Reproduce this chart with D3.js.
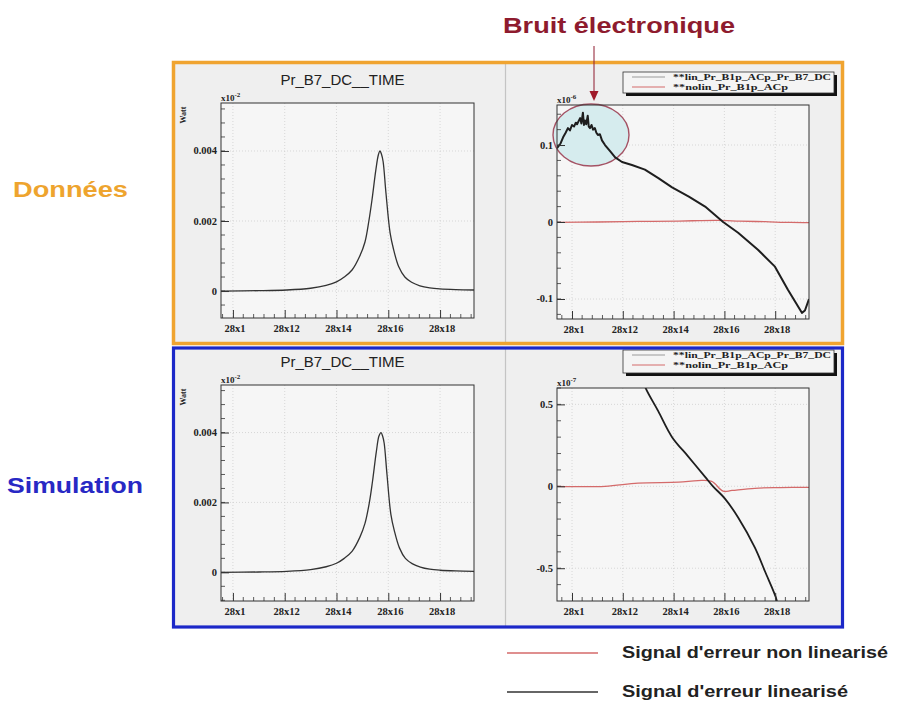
<!DOCTYPE html>
<html><head><meta charset="utf-8">
<script src="https://cdn.jsdelivr.net/npm/d3@7"></script>
<style>body{margin:0;background:#fff}svg{display:block}</style>
</head><body>
<svg id="c" width="909" height="702"></svg>
<script>
// ---------- data ----------
const xTickVals = [10, 12, 14, 16, 18];
const xTickLabels = ["28x1", "28x12", "28x14", "28x16", "28x18"];

const powerTicks = [0, 0.002, 0.004];
const powerTickLabels = ["0", "0.002", "0.004"];
const errDataTicks = [-0.1, 0, 0.1];
const errDataTickLabels = ["-0.1", "0", "0.1"];
const errSimTicks = [-0.5, 0, 0.5];
const errSimTickLabels = ["-0.5", "0", "0.5"];

// Power (Watt) versus time, data
const powerDataX = [9.54, 11.0, 12.08, 13.0, 13.6, 14.0, 14.3, 14.6, 14.9, 15.1, 15.25, 15.37, 15.52, 15.62, 15.68, 15.74, 15.8, 15.91, 16.07, 16.2, 16.4, 16.64, 16.9, 17.22, 17.6, 17.99, 18.6, 19.31];
const powerDataY = [0.0, 0.00001, 0.00003, 0.00008, 0.00016, 0.00026, 0.0004, 0.0006, 0.001, 0.0014, 0.002, 0.0026, 0.00346, 0.0039, 0.004, 0.0039, 0.0037, 0.0028, 0.00166, 0.0012, 0.0007, 0.0004, 0.00025, 0.00015, 0.00009, 0.00006, 0.00004, 0.00003];
// Power (Watt) versus time, simulation
const powerSimX = [9.54, 11.0, 12.08, 13.0, 13.6, 14.0, 14.3, 14.6, 14.9, 15.1, 15.27, 15.39, 15.54, 15.64, 15.72, 15.78, 15.84, 15.95, 16.1, 16.23, 16.43, 16.66, 16.92, 17.24, 17.6, 18.0, 18.6, 19.31];
const powerSimY = [0.0, 0.00001, 0.00003, 0.00008, 0.00016, 0.00026, 0.0004, 0.0006, 0.001, 0.0014, 0.002, 0.0026, 0.00346, 0.0039, 0.004, 0.0039, 0.0037, 0.0028, 0.00166, 0.0012, 0.0007, 0.0004, 0.00025, 0.00015, 0.00009, 0.00006, 0.00004, 0.00003];

// Error signal, data (x10^-6)
const linDataX = [9.41, 9.55, 9.65, 9.75, 9.84, 9.92, 10.0, 10.08, 10.15, 10.2, 10.26, 10.32, 10.37, 10.43, 10.47, 10.51, 10.56, 10.62, 10.66, 10.71, 10.77, 10.83, 10.9, 10.96, 11.02, 11.1, 11.18, 11.3, 11.5, 11.7, 11.97, 12.36, 12.87, 13.4, 13.94, 14.6, 15.24, 15.95, 16.54, 17.32, 17.99, 18.5, 19.05, 19.17, 19.33];
const linDataY = [0.096, 0.102, 0.110, 0.116, 0.122, 0.119, 0.126, 0.124, 0.129, 0.127, 0.131, 0.135, 0.128, 0.142, 0.126, 0.132, 0.127, 0.138, 0.124, 0.122, 0.126, 0.120, 0.122, 0.116, 0.113, 0.114, 0.106, 0.100, 0.092, 0.084, 0.078, 0.074, 0.068, 0.057, 0.045, 0.033, 0.020, 0.000, -0.014, -0.036, -0.058, -0.088, -0.118, -0.115, -0.100];
const nolinDataX = [9.41, 11.0, 12.6, 14.2, 15.0, 15.8, 16.6, 17.6, 18.6, 19.33];
const nolinDataY = [-0.0004, 0.0, 0.0008, 0.0012, 0.0018, 0.002, 0.0012, 0.0004, -0.0006, -0.0008];

// Error signal, simulation (x10^-7)
const linSimX = [12.75, 12.87, 13.39, 13.94, 14.57, 15.24, 15.55, 16.02, 16.54, 17.2, 17.6, 18.03, 18.1];
const linSimY = [0.68, 0.61, 0.46, 0.30, 0.183, 0.058, 0.0, -0.075, -0.19, -0.374, -0.52, -0.68, -0.73];
const nolinSimX = [9.41, 11.3, 12.6, 14.2, 14.96, 15.5, 15.95, 16.3, 17.2, 18.2, 19.33];
const nolinSimY = [0.0, 0.0, 0.02, 0.025, 0.035, 0.03, -0.03, -0.025, -0.012, -0.008, -0.006];

const legendNames = ["**lin_Pr_B1p_ACp_Pr_B7_DC", "**nolin_Pr_B1p_ACp"];
const bottomLegend = ["Signal d'erreur non linearisé", "Signal d'erreur linearisé"];

// ---------- drawing ----------
const svg = d3.select("#c");
const serif = "'Liberation Serif','DejaVu Serif',serif";
const sans = "'Liberation Sans',Arial,sans-serif";
const RED = "#d46a6a";
const BLACK = "#1e1e1e";

function pads(y0, y1) {
  svg.append("rect").attr("x", 174).attr("y", y0).attr("width", 668).attr("height", y1 - y0).attr("fill", "#efefef");
  svg.append("line").attr("x1", 505.5).attr("x2", 505.5).attr("y1", y0).attr("y2", y1).attr("stroke", "#c4c4c4").attr("stroke-width", 1.2);
}
pads(63, 342);
pads(348, 627);

let clipId = 0;
function panel(o) {
  const g = svg.append("g");
  const x = d3.scaleLinear().domain(o.xDomain).range([o.x0, o.x1]);
  const y = d3.scaleLinear().domain(o.yDomain).range([o.y1, o.y0]);
  g.append("rect").attr("x", o.x0).attr("y", o.y0).attr("width", o.x1 - o.x0).attr("height", o.y1 - o.y0).attr("fill", "#f6f6f6");
  g.selectAll(".gx").data(xTickVals).join("line")
    .attr("x1", d => x(d)).attr("x2", d => x(d)).attr("y1", o.y0).attr("y2", o.y1)
    .attr("stroke", "#cfcfcf").attr("stroke-dasharray", "1,2").attr("stroke-width", 0.8);
  g.selectAll(".gy").data(o.yTicks).join("line")
    .attr("x1", o.x0).attr("x2", o.x1).attr("y1", d => y(d)).attr("y2", d => y(d))
    .attr("stroke", "#cfcfcf").attr("stroke-dasharray", "1,2").attr("stroke-width", 0.8);
  if (o.before) o.before(g, x, y);
  const id = "clip" + (clipId++);
  svg.append("clipPath").attr("id", id).append("rect").attr("x", o.x0).attr("y", o.y0).attr("width", o.x1 - o.x0).attr("height", o.y1 - o.y0);
  o.series.forEach(s => {
    const gen = d3.line().x(d => x(d[0])).y(d => y(d[1])).curve(s.jagged ? d3.curveLinear : d3.curveCatmullRom.alpha(0.5));
    g.append("path").attr("clip-path", `url(#${id})`)
      .attr("d", gen(s.x.map((v, i) => [v, s.y[i]])))
      .attr("fill", "none").attr("stroke", s.color).attr("stroke-width", s.w).attr("stroke-linejoin", "round");
  });
  g.append("rect").attr("x", o.x0).attr("y", o.y0).attr("width", o.x1 - o.x0).attr("height", o.y1 - o.y0)
    .attr("fill", "none").attr("stroke", "#333").attr("stroke-width", 1);
  const xAxis = d3.axisTop(x).tickValues(xTickVals).tickSize(8).tickFormat("");
  g.append("g").attr("transform", `translate(0,${o.y1})`).call(xAxis)
    .call(a => a.select(".domain").remove()).selectAll("line").attr("stroke", "#333");
  const xMinor = d3.range(Math.ceil(o.xDomain[0] / 0.4) * 0.4, o.xDomain[1], 0.4).filter(v => !xTickVals.some(t => Math.abs(t - v) < 1e-6));
  g.selectAll(".mx").data(xMinor).join("line").attr("x1", d => x(d)).attr("x2", d => x(d)).attr("y1", o.y1).attr("y2", o.y1 - 4).attr("stroke", "#333").attr("stroke-width", 0.8);
  const yAxis = d3.axisRight(y).tickValues(o.yTicks).tickSize(8).tickFormat("");
  g.append("g").attr("transform", `translate(${o.x0},0)`).call(yAxis)
    .call(a => a.select(".domain").remove()).selectAll("line").attr("stroke", "#333");
  const yMinor = d3.range(Math.ceil(o.yDomain[0] / o.yMinor) * o.yMinor, o.yDomain[1], o.yMinor);
  g.selectAll(".my").data(yMinor).join("line").attr("x1", o.x0).attr("x2", o.x0 + 4).attr("y1", d => y(d)).attr("y2", d => y(d)).attr("stroke", "#333").attr("stroke-width", 0.8);
  g.selectAll(".xl").data(xTickVals).join("text").attr("x", d => x(d) + 2).attr("y", o.y1 + 14)
    .attr("text-anchor", "middle").attr("font-family", serif).attr("font-weight", "bold").attr("font-size", 10.5).attr("fill", "#222")
    .text((d, i) => xTickLabels[i]);
  g.selectAll(".yl").data(o.yTicks).join("text").attr("x", o.x0 - 4).attr("y", d => y(d) + 3.5)
    .attr("text-anchor", "end").attr("font-family", serif).attr("font-weight", "bold").attr("font-size", 10.5).attr("fill", "#222")
    .text((d, i) => o.yLabels[i]);
  const m = g.append("text").attr("x", o.x0).attr("y", o.y0 - 2).attr("font-family", serif).attr("font-weight", "bold").attr("font-size", 9).attr("fill", "#222");
  m.append("tspan").text("x10");
  m.append("tspan").attr("dy", -4).attr("font-size", 7).text(o.mult);
  if (o.title) {
    g.append("text").attr("x", (o.x0 + o.x1) / 2 - 5).attr("y", o.y0 - 18).attr("text-anchor", "middle")
      .attr("font-family", sans).attr("font-size", 15).attr("fill", "#222").text(o.title);
    g.append("text").attr("transform", `translate(${o.x0 - 35},${o.y0 + 12}) rotate(-90)`).attr("text-anchor", "middle")
      .attr("font-family", serif).attr("font-weight", "bold").attr("font-size", 8).attr("fill", "#222").text("Watt");
  }
  if (o.legend) {
    const L = o.legend;
    g.append("rect").attr("x", L.x + 3).attr("y", L.y + 3).attr("width", L.w).attr("height", L.h).attr("fill", "#111");
    g.append("rect").attr("x", L.x).attr("y", L.y).attr("width", L.w).attr("height", L.h).attr("fill", "#f4f4f4").attr("stroke", "#333").attr("stroke-width", 0.8);
    [["#9a9a9a", 0], [RED, 1]].forEach(([c, i]) => {
      const yy = L.y + 5 + i * 10;
      g.append("line").attr("x1", L.x + 9).attr("x2", L.x + 42).attr("y1", yy).attr("y2", yy).attr("stroke", c).attr("stroke-width", 1);
      g.append("text").attr("x", L.x + 50).attr("y", yy + 3).attr("font-family", serif).attr("font-weight", "bold").attr("font-size", 8.5).attr("fill", "#222")
        .attr("textLength", i === 0 ? 158 : 115).attr("lengthAdjust", "spacingAndGlyphs").text(legendNames[i]);
    });
  }
}

const xDomL = [9.54, 19.31], xDomR = [9.41, 19.33];
panel({ x0: 221, x1: 474, y0: 103, y1: 318, xDomain: xDomL, yDomain: [-0.00077, 0.00537], yTicks: powerTicks, yLabels: powerTickLabels, yMinor: 0.0004, mult: "-2",
  title: "Pr_B7_DC__TIME", series: [{ x: powerDataX, y: powerDataY, color: "#333", w: 1.3 }] });
panel({ x0: 557, x1: 809, y0: 105, y1: 319, xDomain: xDomR, yDomain: [-0.126, 0.152], yTicks: errDataTicks, yLabels: errDataTickLabels, yMinor: 0.02, mult: "-6",
  legend: { x: 623, y: 72, w: 211, h: 21 },
  before: (g, x, y) => {
    g.append("ellipse").attr("cx", 591).attr("cy", 135).attr("rx", 38).attr("ry", 31)
      .attr("fill", "#d6ecee").attr("stroke", "#a45264").attr("stroke-width", 1.4);
  },
  series: [{ x: nolinDataX, y: nolinDataY, color: RED, w: 1.3 }, { x: linDataX, y: linDataY, color: BLACK, w: 2, jagged: true }] });
panel({ x0: 221, x1: 474, y0: 385, y1: 601, xDomain: xDomL, yDomain: [-0.00082, 0.00536], yTicks: powerTicks, yLabels: powerTickLabels, yMinor: 0.0004, mult: "-2",
  title: "Pr_B7_DC__TIME", series: [{ x: powerSimX, y: powerSimY, color: "#333", w: 1.3 }] });
panel({ x0: 557, x1: 809, y0: 388, y1: 601, xDomain: xDomR, yDomain: [-0.70, 0.60], yTicks: errSimTicks, yLabels: errSimTickLabels, yMinor: 0.1, mult: "-7",
  legend: { x: 623, y: 350, w: 211, h: 23 },
  series: [{ x: nolinSimX, y: nolinSimY, color: RED, w: 1.3 }, { x: linSimX, y: linSimY, color: BLACK, w: 1.8 }] });

svg.append("rect").attr("x", 173.5).attr("y", 62.5).attr("width", 669).attr("height", 281).attr("fill", "none").attr("stroke", "#f0a430").attr("stroke-width", 3.5);
svg.append("rect").attr("x", 173.5).attr("y", 348).attr("width", 669).attr("height", 279).attr("fill", "none").attr("stroke", "#1c28c8").attr("stroke-width", 3.2);

svg.append("text").attr("x", 13).attr("y", 197).attr("font-family", sans).attr("font-weight", "bold").attr("font-size", 22)
  .attr("fill", "#eea42e").attr("textLength", 115).attr("lengthAdjust", "spacingAndGlyphs").text("Données");
svg.append("text").attr("x", 7).attr("y", 493).attr("font-family", sans).attr("font-weight", "bold").attr("font-size", 22)
  .attr("fill", "#2828c4").attr("textLength", 136).attr("lengthAdjust", "spacingAndGlyphs").text("Simulation");

svg.append("text").attr("x", 503).attr("y", 33).attr("font-family", sans).attr("font-weight", "bold").attr("font-size", 22)
  .attr("fill", "#8e1b2e").attr("textLength", 232).attr("lengthAdjust", "spacingAndGlyphs").text("Bruit électronique");
svg.append("line").attr("x1", 594).attr("x2", 594).attr("y1", 46).attr("y2", 92).attr("stroke", "#8e1b2e").attr("stroke-width", 1);
svg.append("path").attr("d", "M589.5,91 L598.5,91 L594,101 Z").attr("fill", "#a01a2a");

bottomLegend.forEach((t, i) => {
  const yy = 653 + i * 39;
  svg.append("line").attr("x1", 507).attr("x2", 598).attr("y1", yy).attr("y2", yy).attr("stroke", i === 0 ? RED : "#333").attr("stroke-width", 1.6);
  svg.append("text").attr("x", 622).attr("y", yy + 5).attr("font-family", sans).attr("font-weight", "bold").attr("font-size", 17)
    .attr("fill", "#222").attr("textLength", i === 0 ? 266 : 226).attr("lengthAdjust", "spacingAndGlyphs").text(t);
});
</script>
</body></html>
